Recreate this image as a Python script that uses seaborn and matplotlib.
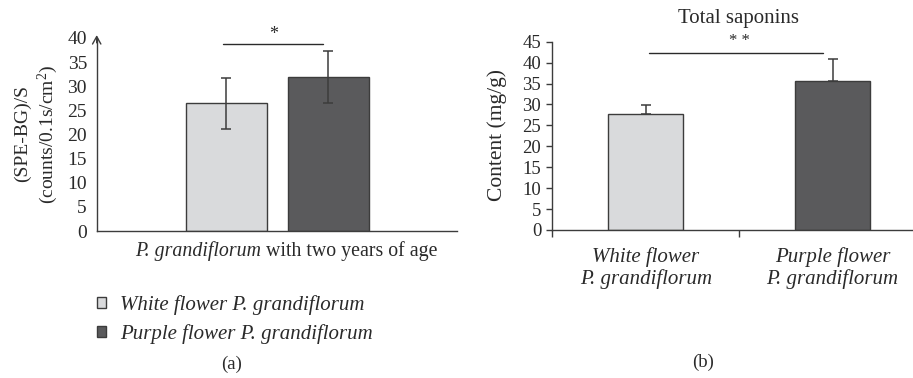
import matplotlib
matplotlib.use("Agg")
import matplotlib.pyplot as plt
from matplotlib.patches import Patch, Rectangle
from matplotlib.text import Annotation
import seaborn as sns
import pandas as pd

# ---------------- data ----------------
a_category = "P. grandiflorum with two years of age"
a_groups = ["White flower P. grandiflorum", "Purple flower P. grandiflorum"]
a_values = [26.5, 32.0]
a_errors = [5.3, 5.4]
a_yticks = [0, 5, 10, 15, 20, 25, 30, 35, 40]

b_categories = ["White flower\nP. grandiflorum", "Purple flower\nP. grandiflorum"]
b_values = [27.7, 35.5]
b_errors = [2.1, 5.3]
b_yticks = [0, 5, 10, 15, 20, 25, 30, 35, 40, 45]

# ---------------- style ----------------
sns.set_theme(style="white")
SERIF = "Liberation Serif"
plt.rcParams["font.family"] = [SERIF, "DejaVu Serif"]
plt.rcParams["mathtext.fontset"] = "custom"
plt.rcParams["mathtext.rm"] = SERIF
plt.rcParams["mathtext.it"] = SERIF + ":italic"

LIGHT = "#d9dadc"
DARK = "#5a5a5c"
EDGE = "#3c3c3c"
AX = "#3c3c3c"
TXT = "#2a2a2a"

W, H = 913, 378
fig = plt.figure(figsize=(W / 100, H / 100), dpi=100)


def fx(px):
    return px / W


def fy(py):
    return 1 - py / H


def rect(l, t, r, b):
    return [fx(l), fy(b), fx(r) - fx(l), fy(t) - fy(b)]


def bar_patches(ax):
    bars = [p for p in ax.patches if isinstance(p, Rectangle) and p.get_height() > 0]
    return sorted(bars, key=lambda p: p.get_x())


# ---------------- panel (a) ----------------
ax1 = fig.add_axes(rect(96.7, 38.0, 457, 231.0))
df_a = pd.DataFrame({"age": [a_category] * len(a_groups), "group": a_groups, "value": a_values})
sns.barplot(data=df_a, x="age", y="value", hue="group", hue_order=a_groups,
            palette=[LIGHT, DARK], width=0.8, gap=0.206, errorbar=None,
            edgecolor=EDGE, linewidth=1.0, legend=False, ax=ax1)
ax1.set_xlim(-0.709, 0.704)
ax1.set_ylim(0, 40)
centers_a = []
for i, bar in enumerate(bar_patches(ax1)):
    cx = bar.get_x() + bar.get_width() / 2
    centers_a.append(cx)
    ax1.errorbar(cx, a_values[i], yerr=a_errors[i], fmt="none", ecolor=EDGE,
                 elinewidth=1.1, capsize=3.5, capthick=1.1)
ax1.set_yticks(a_yticks)
ax1.set_yticklabels([str(v) for v in a_yticks])
ax1.set_xticks([])
ax1.set_xlabel("")
ax1.set_ylabel("")
ax1.tick_params(axis="y", length=0, pad=7, labelsize=14, labelcolor=TXT)
for s in ["top", "right"]:
    ax1.spines[s].set_visible(False)
for s in ["left", "bottom"]:
    ax1.spines[s].set_color(AX)
    ax1.spines[s].set_linewidth(1.0)
ax1.annotate("", xy=(-0.709, 40.6), xytext=(-0.709, 39.0),
             arrowprops=dict(arrowstyle="->,head_width=0.25,head_length=0.45",
                             color=AX, lw=1.0, shrinkA=0, shrinkB=0),
             annotation_clip=False)
# significance
ax1.plot([centers_a[0] - 0.012, centers_a[1] - 0.02], [38.7, 38.7], color=TXT, lw=1.0, clip_on=False)
ax1.text((centers_a[0] + centers_a[1]) / 2 - 0.015, 38.9, "*", ha="center", va="bottom",
         fontsize=13, color=TXT)

# x-axis title: italic species name + regular text
t_it = fig.text(fx(135), fy(256), "P. grandiflorum", ha="left", va="baseline",
                fontsize=14.3, fontstyle="italic", color=TXT)
fig.add_artist(Annotation(" with two years of age", xy=(1, 0), xycoords=t_it,
                          va="bottom", ha="left", fontsize=14.3, color=TXT))

fig.text(fx(37), fy(134), "(SPE-BG)/S\n(counts/0.1s/cm$^2$)", rotation=90,
         ha="center", va="center", fontsize=14, color=TXT, linespacing=1.25)

handles = [Patch(facecolor=LIGHT, edgecolor=EDGE, linewidth=1.0),
           Patch(facecolor=DARK, edgecolor=EDGE, linewidth=1.0)]
leg = fig.legend(handles, a_groups, loc="upper left",
                 bbox_to_anchor=(fx(97), fy(295)), frameon=False, borderpad=0,
                 borderaxespad=0, handlelength=0.42, handleheight=0.42, handletextpad=0.7,
                 labelspacing=0.45, prop={"family": SERIF, "style": "italic", "size": 15})
for t in leg.get_texts():
    t.set_color(TXT)

fig.text(fx(232), fy(364), "(a)", ha="center", va="center", fontsize=13.5, color=TXT)

# ---------------- panel (b) ----------------
ax2 = fig.add_axes(rect(552.3, 41.7, 913, 230.0))
df_b = pd.DataFrame({"sample": b_categories, "value": b_values})
sns.barplot(data=df_b, x="sample", y="value", hue="sample", hue_order=b_categories,
            palette=[LIGHT, DARK], width=0.4, errorbar=None,
            edgecolor=EDGE, linewidth=1.0, legend=False, ax=ax2)
ax2.set_xlim(-0.5, 1.43)
ax2.set_ylim(0, 45)
centers_b = []
for i, bar in enumerate(bar_patches(ax2)):
    cx = bar.get_x() + bar.get_width() / 2
    centers_b.append(cx)
    ax2.errorbar(cx, b_values[i], yerr=[[0], [b_errors[i]]], fmt="none", ecolor=EDGE,
                 elinewidth=1.1, capsize=3.5, capthick=1.1)
ax2.set_yticks(b_yticks)
ax2.set_yticklabels([str(v) for v in b_yticks])
ax2.set_xticks([-0.5, 0.5])
ax2.set_xticklabels(["", ""])
ax2.set_xticks([0, 1], minor=True)
ax2.set_xticklabels(b_categories, minor=True, fontstyle="italic")
ax2.tick_params(axis="x", which="major", direction="out", length=5, width=1.0, color=AX, bottom=True)
ax2.tick_params(axis="x", which="minor", length=0, pad=12, labelsize=15, labelcolor=TXT)
ax2.tick_params(axis="y", direction="out", length=4, width=1.0, color=AX, left=True,
                pad=4, labelsize=13.5, labelcolor=TXT)
for t in ax2.get_xticklabels(minor=True):
    t.set_linespacing(1.2)
ax2.set_xlabel("")
ax2.set_ylabel("")
for s in ["top", "right"]:
    ax2.spines[s].set_visible(False)
for s in ["left", "bottom"]:
    ax2.spines[s].set_color(AX)
    ax2.spines[s].set_linewidth(1.0)
ax2.plot([centers_b[0] + 0.015, centers_b[1] - 0.05], [42.2, 42.2], color=TXT, lw=1.0, clip_on=False)
ax2.text(0.5, 43.3, "* *", ha="center", va="bottom", fontsize=12, color=TXT)

fig.text(fx(738), fy(19), "Total saponins", ha="center", va="center", fontsize=15, color=TXT)
fig.text(fx(497), fy(135), "Content (mg/g)", rotation=90, ha="center", va="center",
         fontsize=15.5, color=TXT)
fig.text(fx(703), fy(362), "(b)", ha="center", va="center", fontsize=13.5, color=TXT)

fig.savefig("out.png", dpi=100, facecolor="white")
